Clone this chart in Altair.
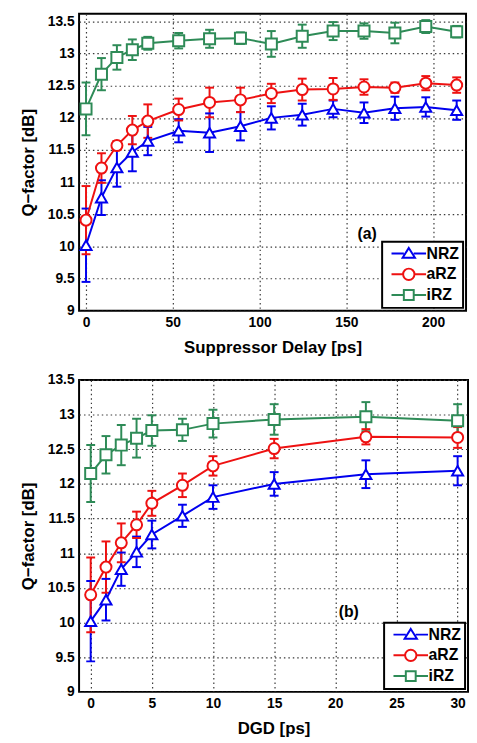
import altair as alt
import pandas as pd

series_names = ["NRZ", "aRZ", "iRZ"]
series_colors = ["#0000ee", "#ee1111", "#2e8b57"]
point_shapes = ["triangle-up", "circle", "square"]

# ---- panel (a): Suppressor delay ----
delay_ps = [0, 8.9, 17.8, 26.7, 35.6, 53.4, 71.2, 89.0, 106.8, 124.6, 142.4, 160.2, 178.0, 195.8, 213.6]
a_nrz = [10.02, 10.76, 11.23, 11.47, 11.64, 11.80, 11.77, 11.87, 12.00, 12.05, 12.14, 12.08, 12.15, 12.17, 12.12]
a_nrz_err = [0.57, 0.27, 0.30, 0.30, 0.22, 0.18, 0.30, 0.22, 0.18, 0.17, 0.13, 0.16, 0.18, 0.15, 0.15]
a_arz = [10.41, 11.22, 11.57, 11.81, 11.95, 12.13, 12.24, 12.28, 12.38, 12.44, 12.45, 12.48, 12.47, 12.54, 12.51]
a_arz_err = [0.53, 0.23, 0.07, 0.22, 0.26, 0.17, 0.23, 0.19, 0.15, 0.17, 0.17, 0.12, 0.08, 0.11, 0.12]
a_irz = [12.14, 12.68, 12.94, 13.06, 13.16, 13.20, 13.23, 13.24, 13.15, 13.27, 13.35, 13.35, 13.32, 13.42, 13.34]
a_irz_err = [0.41, 0.25, 0.19, 0.16, 0.10, 0.12, 0.14, 0.09, 0.20, 0.18, 0.14, 0.12, 0.16, 0.10, 0.09]

# ---- panel (b): DGD ----
dgd_ps = [0, 1.25, 2.5, 3.75, 5, 7.5, 10, 15, 22.5, 30]
b_nrz = [10.02, 10.33, 10.77, 11.02, 11.27, 11.54, 11.81, 12.00, 12.14, 12.19]
b_nrz_err = [0.58, 0.30, 0.24, 0.22, 0.20, 0.16, 0.17, 0.17, 0.20, 0.21]
b_arz = [10.40, 10.80, 11.15, 11.41, 11.72, 11.98, 12.26, 12.51, 12.68, 12.67]
b_arz_err = [0.54, 0.37, 0.28, 0.19, 0.18, 0.17, 0.14, 0.14, 0.11, 0.15]
b_irz = [12.15, 12.42, 12.56, 12.66, 12.77, 12.78, 12.87, 12.93, 12.97, 12.91]
b_irz_err = [0.41, 0.27, 0.29, 0.28, 0.22, 0.16, 0.20, 0.22, 0.21, 0.24]

y_ticks = [9, 9.5, 10, 10.5, 11, 11.5, 12, 12.5, 13, 13.5]
a_x_ticks = [0, 50, 100, 150, 200]
b_x_ticks = [0, 5, 10, 15, 20, 25, 30]

FONT = "Liberation Sans"

# legend glyphs: line segment + hollow marker (unit = sqrt(symbolSize)/2 px)
legend_glyphs = [
    "M-3.5,0H-1.0M1.0,0H3.5M0,-1.15L1.25,0.85L-1.25,0.85Z",
    "M-3.5,0H-1.15M1.15,0H3.5M-1.15,0A1.15,1.15 0 1,0 1.15,0A1.15,1.15 0 1,0 -1.15,0Z",
    "M-3.5,0H-1.0M1.0,0H3.5M-1,-1H1V1H-1Z",
]


def build_df(xs, vals, errs):
    rows = []
    for name, v, e in zip(series_names, vals, errs):
        for x, y, d in zip(xs, v, e):
            rows.append({"x": x, "y": y, "lo": y - d, "hi": y + d, "series": name})
    return pd.DataFrame(rows)


def legend_def():
    return alt.Legend(title=None, orient="bottom-right", offset=3,
                      symbolSize=100, symbolStrokeWidth=2,
                      symbolOffset=15, labelOffset=10,
                      padding=4, rowPadding=2)


def panel(df, xdom, ydom, xticks, xtitle, tag, tag_x, tag_y, w, h):
    xs = alt.Scale(domain=xdom, nice=False, zero=False)
    ysc = alt.Scale(domain=ydom, nice=False, zero=False)
    grid_style = dict(grid=True, gridColor="#3a3a3a", gridDash=[1.5, 3], gridWidth=1.2, gridOpacity=1)
    xax = alt.Axis(values=xticks, title=xtitle, labelExpr="datum.value + ''", **grid_style)
    yax = alt.Axis(values=y_ticks, title="Q\u2212factor [dB]", labelExpr="datum.value + ''", **grid_style)
    cscale = alt.Scale(domain=series_names, range=series_colors)
    color = alt.Color("series:N", scale=cscale, legend=None)
    shape = alt.Shape("series:N", scale=alt.Scale(domain=series_names, range=point_shapes), legend=None)
    base = alt.Chart(df)
    x = alt.X("x:Q", scale=xs, axis=xax)

    def Y(f):
        return alt.Y(f, scale=ysc, axis=yax)

    rules = base.mark_rule(strokeWidth=2).encode(
        x=x, y=Y("lo:Q"), y2="hi:Q", color=color)
    cap_hi = base.mark_tick(size=9, thickness=2, orient="horizontal", opacity=1).encode(
        x=x, y=Y("hi:Q"), color=color)
    cap_lo = base.mark_tick(size=9, thickness=2, orient="horizontal", opacity=1).encode(
        x=x, y=Y("lo:Q"), color=color)
    lines = base.mark_line(strokeWidth=2).encode(
        x=x, y=Y("y:Q"), color=color, order="x:Q")
    pts = base.mark_point(size=125, strokeWidth=2, filled=False, fill="white",
                          fillOpacity=1, opacity=1).encode(
        x=x, y=Y("y:Q"), color=color, shape=shape)
    # legend-only layer (no rows drawn; legend comes from the scale domain)
    leg = base.transform_filter("datum.x < -1e9").mark_point(
        filled=False, opacity=1, strokeWidth=2).encode(
        x=x, y=Y("y:Q"),
        color=alt.Color("series:N", scale=cscale, legend=legend_def()),
        shape=alt.Shape("series:N", scale=alt.Scale(domain=series_names, range=legend_glyphs),
                        legend=legend_def()),
    )
    tag_df = pd.DataFrame({"x": [tag_x], "y": [tag_y], "t": [tag]})
    txt = alt.Chart(tag_df).mark_text(font=FONT, fontSize=16, fontWeight="bold",
                                      color="black").encode(
        x=x, y=Y("y:Q"), text="t:N")
    return alt.layer(rules, cap_hi, cap_lo, lines, pts, txt, leg).resolve_scale(
        color="independent", shape="independent").properties(width=w, height=h)


df_a = build_df(delay_ps, [a_nrz, a_arz, a_irz], [a_nrz_err, a_arz_err, a_irz_err])
df_b = build_df(dgd_ps, [b_nrz, b_arz, b_irz], [b_nrz_err, b_arz_err, b_irz_err])

top = panel(df_a, [-4, 219], [9, 13.62], a_x_ticks, "Suppressor Delay [ps]", "(a)", 162, 10.2, 392, 301)
bottom = panel(df_b, [-0.95, 30.85], [9, 13.5], b_x_ticks, "DGD [ps]", "(b)", 21.1, 10.15, 394, 316)

chart = alt.vconcat(top, bottom, spacing=16).resolve_scale(
    color="independent", shape="independent", x="independent", y="independent"
).properties(
    padding={"left": 10, "top": 0, "right": 0, "bottom": 0}
).configure_view(stroke="black", strokeWidth=2).configure_axis(
    labelFont=FONT, labelFontSize=14, labelFontWeight="bold", labelColor="black",
    titleFont=FONT, titleFontSize=17, titleFontWeight="bold", titleColor="black",
    domain=False, ticks=False, labelPadding=5, titlePadding=10,
).configure_legend(
    labelFont=FONT, labelFontSize=16, labelFontWeight="bold", labelColor="black",
    fillColor="white", strokeColor="black", strokeWidth=2, cornerRadius=0,
)

chart.save("out.html", embed_options={"renderer": "svg", "actions": False})
